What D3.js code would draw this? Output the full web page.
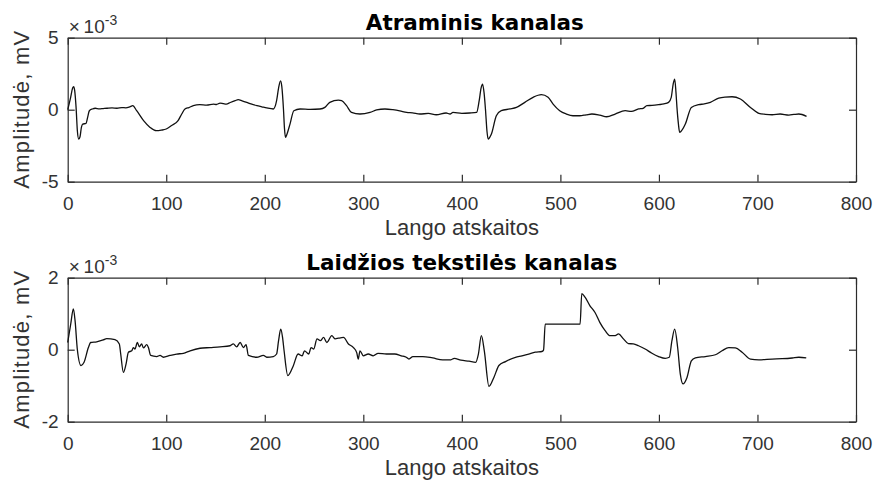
<!DOCTYPE html>
<html>
<head>
<meta charset="utf-8">
<script src="https://cdn.jsdelivr.net/npm/d3@7"></script>
<style>
  body { margin: 0; background: #fff; }
  svg { display: block; }
  .tick text { font-family: "Liberation Sans", Arial, sans-serif; font-size: 19px; fill: #333; }
  .domain, .tick line { stroke: #2b2b2b; stroke-width: 1.2; }
</style>
</head>
<body>
<div id="chart"></div>
<script>
// values in units of 1e-3 mV, sample index on x
var topX = [0, 3, 5, 6.1, 7.1, 8.5, 9.8, 11.2, 12.5, 13.9, 15.2, 18.6, 20, 22, 25, 28, 32, 36, 40, 45, 50, 55, 59, 63, 66,
  70, 77, 83.6, 90, 95, 100, 105.5, 112, 115.7, 119, 123, 127.5, 134, 141, 148, 151, 154.6, 158, 161, 165, 170, 173,
  177, 181.7, 186, 192, 197, 202, 208.7, 212, 214, 216, 217.3, 219, 220, 221, 222.5, 225.6, 229.5, 235.8, 246, 256,
  261, 266, 274.7, 278, 283, 288, 296.6, 306.8, 313.5, 322, 330, 337, 344, 350, 357.4, 366, 374, 384, 388, 391, 400,
  408, 415, 417.6, 419.5, 421, 422.5, 424, 425.5, 426.7, 428, 430, 435, 440, 448.6, 455.4, 463.9, 472.3, 480.7, 487.5,
  492.6, 499.3, 506, 512.8, 519.6, 526, 532, 540, 547, 555.6, 565.8, 572, 579.3, 584, 587.8, 593, 599.7, 605, 609.8,
  612.5, 614.5, 616, 617.3, 618.3, 619.8, 621, 622.5, 626.8, 632.9, 640.3, 646, 652.2, 660.7, 667, 674.2, 682.7, 692.9,
  701.4, 708, 714.9, 723, 731.9, 737, 742, 749.8];
var topY = [0, 0.86, 1.5, 1.6, 1.32, 0.16, -1.46, -2.04, -1.88, -1.23, -1.0, -0.95, -0.6, -0.07, 0.05, 0.1, 0.06, 0.08, 0.1, 0.12, 0.1,
  0.15, 0.13, 0.2, 0.28, -0.07, -0.76, -1.23, -1.46, -1.42, -1.34, -1.1, -0.76, -0.3, 0.05, 0.15, 0.28, 0.35, 0.32,
  0.39, 0.36, 0.46, 0.42, 0.39, 0.5, 0.63, 0.7, 0.62, 0.51, 0.4, 0.28, 0.2, 0.12, 0.05, 0.63, 1.5, 2.0, 1.6, 0, -1.3,
  -1.92, -1.7, -1.0, -0.07, 0.05, 0.02, 0.05, 0.16, 0.51, 0.67, 0.63, 0.28, -0.19, -0.3, -0.19, -0.02, 0.05, 0, -0.08,
  -0.19, -0.22, -0.3, -0.26, -0.35, -0.23, -0.3, -0.19, -0.25, -0.23, -0.19, 0.63, 1.5, 1.78, 1.2, 0, -1.5, -2.04,
  -1.95, -1.69, -0.42, -0.07, 0.05, 0.16, 0.51, 0.86, 1.04, 0.86, 0.39, -0.07, -0.3, -0.42, -0.42, -0.36, -0.3, -0.38,
  -0.49, -0.3, -0.07, -0.12, 0.05, 0.1, 0.28, 0.3, 0.35, 0.4, 0.51, 0.86, 1.8, 2.13, 1.2, 0.16, -1.0, -1.57, -1.5,
  -1.0, 0.16, 0.35, 0.4, 0.51, 0.81, 0.88, 0.9, 0.74, 0.16, -0.25, -0.32, -0.35, -0.3, -0.37, -0.33, -0.3, -0.46];

var botX = [0, 3, 5.75, 7.5, 9.8, 13.5, 16.6, 21, 23.3, 29.4, 36, 39.6, 48, 52.4, 53.8, 56.5, 59.2, 61.6, 65, 66.6, 68.3,
  70.7, 72.7, 75, 76.8, 80.2, 81.9, 84.2, 90.3, 93.7, 97, 103.9, 110.6, 117.4, 124.2, 134.3, 144.5, 154.6, 164.8,
  168.1, 171.5, 175, 178.3, 181, 183.4, 191.8, 198.6, 202, 208.7, 212, 214, 216.2, 218, 219.6, 223.4, 228.9, 233.8,
  238, 240.3, 244.6, 247, 249.7, 253, 256.4, 259.7, 263, 268, 271.5, 274.8, 279.9, 284.9, 290, 293.3, 294.9, 296.6,
  300, 305, 310, 315, 323.5, 331.9, 338.6, 343.6, 346.3, 350.3, 360.4, 370.5, 380.5, 388.9, 392.3, 399, 407.4, 414,
  416.8, 419.8, 422.8, 427.5, 432.5, 437.6, 444.3, 454.4, 461, 467.8, 474.5, 481.2, 482.9, 484.6, 500, 520, 521.7, 525,
  530, 535, 540, 545.4, 550.5, 555.6, 559, 564, 569, 574, 579.3, 586, 592.9, 599.7, 606.4, 610.5, 613.2, 616, 619,
  621.7, 624.4, 628.5, 632.9, 637, 647.1, 657.3, 664, 670.8, 677.6, 684.4, 692.9, 701.4, 714.9, 725, 735.3, 742, 749.5];
var botY = [0.2, 0.7, 1.13, 0.8, 0, -0.44, -0.35, 0.06, 0.2, 0.22, 0.27, 0.31, 0.28, 0.16, -0.12, -0.63, -0.4, -0.07, -0.03, 0.06, 0.02,
  0.2, 0.08, 0.16, 0.05, 0.14, 0.06, -0.16, -0.19, -0.16, -0.21, -0.16, -0.12, -0.1, -0.03, 0.04, 0.06, 0.08, 0.11,
  0.16, 0.08, 0.2, 0.06, 0.14, -0.16, -0.21, -0.16, -0.21, -0.19, -0.12, 0.25, 0.57, 0.35, -0.03, -0.72, -0.45, -0.12,
  -0.17, -0.03, -0.12, 0.06, 0.02, 0.3, 0.25, 0.34, 0.2, 0.39, 0.3, 0.32, 0.34, 0.16, 0.06, -0.08, -0.26, -0.03,
  -0.17, -0.12, -0.17, -0.1, -0.12, -0.12, -0.17, -0.21, -0.26, -0.19, -0.19, -0.23, -0.28, -0.28, -0.24, -0.29, -0.32, -0.35,
  -0.12, 0.39, -0.03, -1.02, -0.77, -0.44, -0.33, -0.21, -0.17, -0.12, -0.07, -0.05, -0.01, 0.71, 0.71, 0.71, 1.56, 1.46,
  1.22, 1.04, 0.76, 0.53, 0.39, 0.39, 0.44, 0.3, 0.17, 0.16, 0.11, 0.02, -0.1, -0.19, -0.24, -0.21, 0.25, 0.57, 0.06,
  -0.68, -0.95, -0.77, -0.31, -0.23, -0.19, -0.14, -0.03, 0.06, 0.05, -0.07, -0.26, -0.28, -0.26, -0.25, -0.23, -0.21, -0.23];

var xTicks = [0, 100, 200, 300, 400, 500, 600, 700, 800];
var topTicks = [-5, 0, 5];
var botTicks = [-2, 0, 2];
var titles = ["Atraminis kanalas", "Laidžios tekstilės kanalas"];
var xLabel = "Lango atskaitos";
var yLabel = "Amplitudė, mV";

var W = 873, H = 482;
var left = 67.7, right = 856;
var panels = [
  { xs: topX, ys: topY, ticks: topTicks, dom: [-5, 5], top: 37.7, title: titles[0], titleShift: 13 },
  { xs: botX, ys: botY, ticks: botTicks, dom: [-2, 2], top: 277.7, title: titles[1], titleShift: 0 }
];
var ph = 144;
var fmt = function(d) { return String(d); };

var svg = d3.select("#chart").append("svg")
  .attr("width", W)
  .attr("height", H);

var x = d3.scaleLinear().domain([0, 800]).range([left, right]);

panels.forEach(function(p) {
  var y = d3.scaleLinear().domain(p.dom).range([p.top + ph, p.top]);
  var g = svg.append("g");

  g.append("g")
    .attr("transform", "translate(0," + (p.top + ph) + ")")
    .call(d3.axisBottom(x).tickValues(xTicks).tickFormat(fmt).tickSize(-7).tickPadding(15).tickSizeOuter(0));
  g.append("g")
    .attr("transform", "translate(0," + p.top + ")")
    .call(d3.axisTop(x).tickValues(xTicks).tickSize(-7).tickFormat("").tickSizeOuter(0));
  g.append("g")
    .attr("transform", "translate(" + left + ",0)")
    .call(d3.axisLeft(y).tickValues(p.ticks).tickFormat(fmt).tickSize(-7).tickPadding(9).tickSizeOuter(0));
  g.append("g")
    .attr("transform", "translate(" + right + ",0)")
    .call(d3.axisRight(y).tickValues(p.ticks).tickSize(-7).tickFormat("").tickSizeOuter(0));

  var line = d3.line()
    .curve(d3.curveMonotoneX)
    .x(function(d) { return x(d[0]); })
    .y(function(d) { return y(d[1]); });

  g.append("path")
    .datum(d3.zip(p.xs, p.ys))
    .attr("d", line)
    .attr("fill", "none")
    .attr("stroke", "#111")
    .attr("stroke-width", 1.3)
    .attr("stroke-linejoin", "round");

  // exponent label
  var ex = g.append("text")
    .attr("x", left + 1)
    .attr("y", p.top - 5)
    .attr("font-family", "Liberation Sans, Arial, sans-serif")
    .attr("font-size", 19)
    .attr("fill", "#333");
  ex.append("tspan").text("\u00d7\u200910");
  ex.append("tspan").attr("dy", -8).attr("font-size", 14).text("-3");

  g.append("text")
    .attr("x", (left + right) / 2 + p.titleShift)
    .attr("y", p.top - 8)
    .attr("text-anchor", "middle")
    .attr("font-family", "DejaVu Sans, sans-serif")
    .attr("font-weight", "bold")
    .attr("font-size", 21.5)
    .attr("fill", "#000")
    .text(p.title);

  g.append("text")
    .attr("x", (left + right) / 2)
    .attr("y", p.top + ph + 53)
    .attr("text-anchor", "middle")
    .attr("font-family", "Liberation Sans, Arial, sans-serif")
    .attr("font-size", 22)
    .attr("fill", "#333")
    .text(xLabel);

  g.append("text")
    .attr("transform", "translate(29," + (p.top + ph / 2) + ") rotate(-90)")
    .attr("text-anchor", "middle")
    .attr("font-family", "Liberation Sans, Arial, sans-serif")
    .attr("font-size", 22)
    .attr("textLength", 158)
    .attr("lengthAdjust", "spacing")
    .attr("fill", "#333")
    .text(yLabel);
});
</script>
</body>
</html>
